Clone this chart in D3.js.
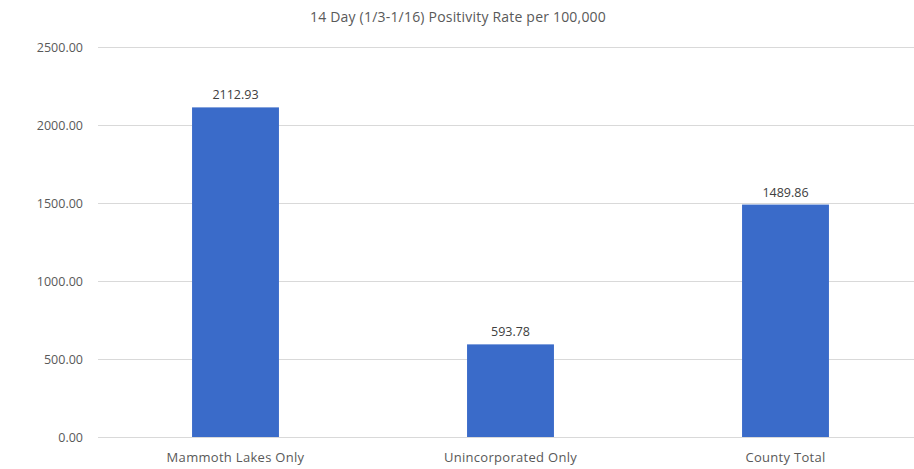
<!DOCTYPE html>
<html><head><meta charset="utf-8">
<script src="https://cdn.jsdelivr.net/npm/d3@7"></script>
<style>body{margin:0;background:#fff;} text{font-family:"Open Sans",Lato,sans-serif;}</style>
</head><body><svg id="c" width="914" height="469"></svg>
<script>
const categories = ["Mammoth Lakes Only", "Unincorporated Only", "County Total"];
const values = [2112.93, 593.78, 1489.86];
const yTicks = [0, 500, 1000, 1500, 2000, 2500];
const title = "14 Day (1/3-1/16) Positivity Rate per 100,000";

const FONT = "Open Sans";
const svg = d3.select("#c");
const x = d3.scaleBand().domain(categories).range([98, 923]).paddingInner(0.684).paddingOuter(0.342);
const y = d3.scaleLinear().domain([0, 2500]).range([437, 47]);

svg.append("text").attr("x", 458).attr("y", 22).attr("text-anchor", "middle")
  .attr("font-size", 14).attr("letter-spacing", 0.2).attr("fill", "#595959").text(title);

const ya = svg.append("g").attr("transform", "translate(98,0)")
  .call(d3.axisLeft(y).tickValues(yTicks).tickSize(-825).tickPadding(15).tickFormat(d3.format(".2f")));
ya.select(".domain").remove();
ya.selectAll("line").attr("stroke", "#d9d9d9");
ya.selectAll("text").attr("font-size", 12.5).attr("fill", "#595959").attr("font-family", FONT);

svg.append("g").selectAll("rect").data(values).join("rect")
  .attr("x", (d, i) => x(categories[i])).attr("width", x.bandwidth())
  .attr("y", d => y(d)).attr("height", d => y(0) - y(d)).attr("fill", "#3a6bc9");

svg.append("g").selectAll("text").data(values).join("text")
  .attr("x", (d, i) => x(categories[i]) + x.bandwidth() / 2).attr("y", d => y(d) - 8)
  .attr("text-anchor", "middle").attr("font-size", 12.5).attr("fill", "#404040")
  .text(d => d3.format(".2f")(d));

const xa = svg.append("g").attr("transform", "translate(0,437)")
  .call(d3.axisBottom(x).tickSize(0).tickPadding(16));
xa.select(".domain").remove();
xa.selectAll("text").attr("font-size", 13).attr("letter-spacing", 0.3).attr("fill", "#595959").attr("font-family", FONT);
</script></body></html>
